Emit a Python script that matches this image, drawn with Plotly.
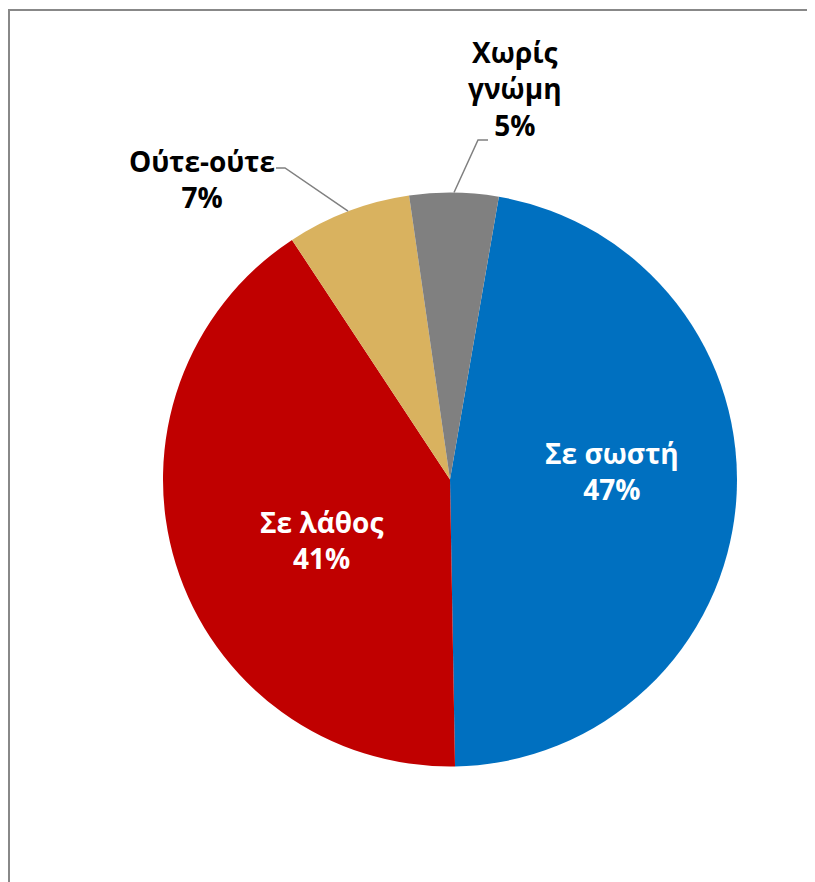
import math
import plotly.graph_objects as go

labels = ["Σε σωστή", "Σε λάθος", "Ούτε-ούτε", "Χωρίς γνώμη"]
values = [47, 41, 7, 5]
colors = ["#0070C0", "#C00000", "#D9B25F", "#808080"]
label_text = ["Σε σωστή", "Σε λάθος", "Ούτε-ούτε", "Χωρίς<br>γνώμη"]

W, H = 815, 882
OFF = 8  # page body margin
CX, CY, R = 450, 479.5, 287
ROT = 9.8  # degrees clockwise from 12 o'clock

FONT = "Open Sans"
FS = 28

def px(x):
    return (x - OFF) / W

def py(y):
    return 1 - (y - OFF) / H

total = sum(values)
pct = [round(v / total * 100) for v in values]

fig = go.Figure(go.Pie(
    labels=labels,
    values=values,
    textinfo="none",
    sort=False,
    direction="clockwise",
    rotation=ROT,
    marker=dict(colors=colors, line=dict(color="white", width=0)),
    domain=dict(x=[px(CX - R), px(CX + R)], y=[py(CY + R), py(CY - R)]),
    showlegend=False,
    hoverinfo="label+percent",
))

# label centres (layout) and leader-line elbows for the small slices
label_pos = {0: (612, 471), 1: (321, 540), 2: (202, 179), 3: (515, 89)}
label_color = {0: "white", 1: "white", 2: "black", 3: "black"}
elbows = {2: [(285, 168), (276, 168)], 3: [(478, 140), (488, 140)]}

annotations = []
shapes = []
cum = 0
for i, v in enumerate(values):
    mid = ROT + (cum + v / 2) / total * 360
    cum += v
    lx, ly = label_pos[i]
    annotations.append(dict(
        x=px(lx), y=py(ly), xref="paper", yref="paper",
        text=f"{label_text[i]}<br>{pct[i]}%", showarrow=False,
        font=dict(family=FONT, size=FS, color=label_color[i], weight="bold"),
        align="center", xanchor="center", yanchor="middle",
    ))
    if i in elbows:
        a = math.radians(mid)
        ex, ey = CX + R * math.sin(a), CY - R * math.cos(a)
        pts = [(ex, ey)] + elbows[i]
        path = "M " + " L ".join(f"{px(x):.5f},{py(y):.5f}" for x, y in pts)
        shapes.append(dict(type="path", xref="paper", yref="paper", path=path,
                           line=dict(color="#808080", width=1.5)))

# chart frame (cropped)
shapes.append(dict(type="path", xref="paper", yref="paper",
                   path=f"M {px(9):.5f},0 L {px(9):.5f},{py(10):.5f} L 1,{py(10):.5f}",
                   line=dict(color="#888888", width=2)))

fig.update_layout(
    width=W, height=H,
    margin=dict(l=0, r=0, t=0, b=0),
    paper_bgcolor="white",
    plot_bgcolor="white",
    annotations=annotations,
    shapes=shapes,
)

fig.write_html("out.html")
